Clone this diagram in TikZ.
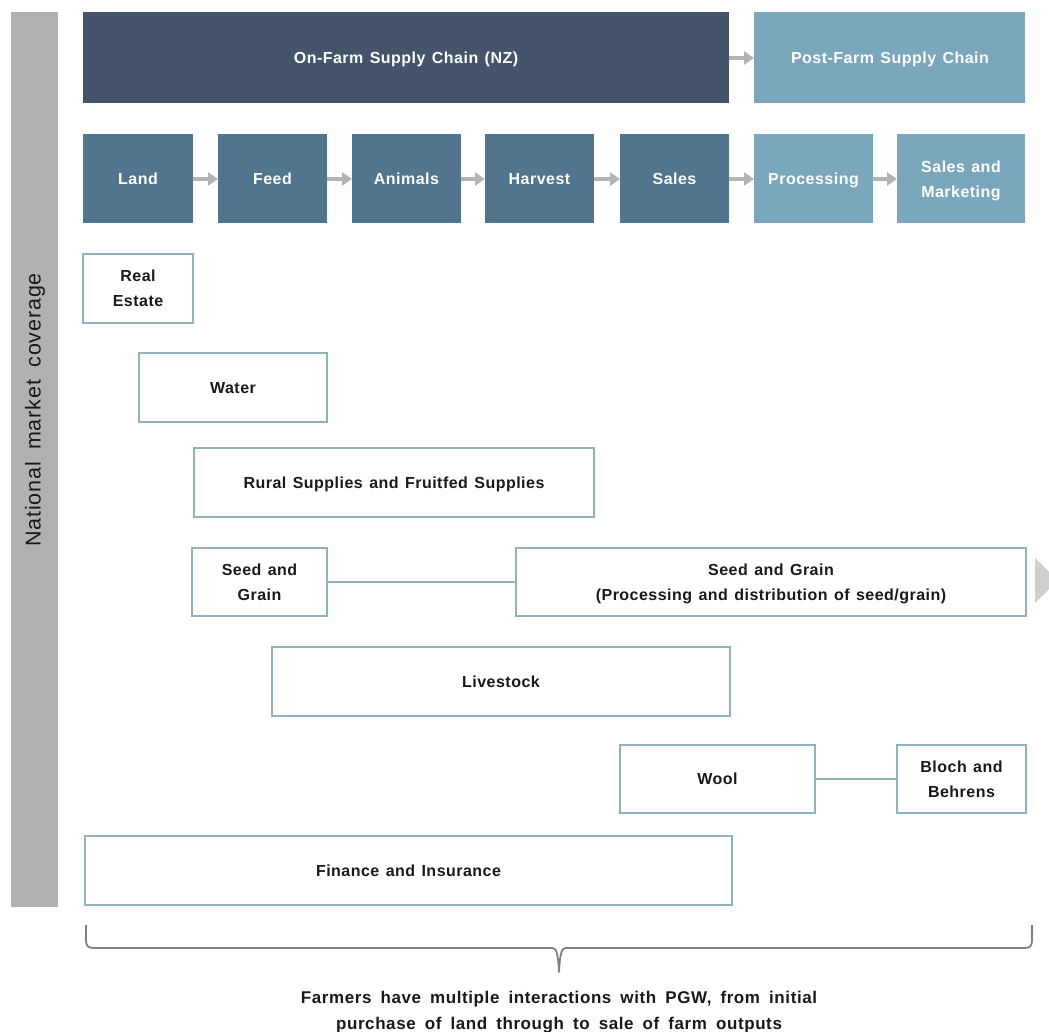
\documentclass[tikz,border=0pt]{standalone}
\usepackage{fontspec}
\setmainfont{Liberation Sans}
\newfontfamily\boxfont[LetterSpace=3,WordSpace=1.3]{Liberation Sans}
\newfontfamily\capfont[LetterSpace=3.5,WordSpace=1.7]{Liberation Sans}
\newfontfamily\sidefont[LetterSpace=4,WordSpace=1.8]{Liberation Sans}
\usetikzlibrary{arrows.meta}
\definecolor{darkslate}{HTML}{44546A}
\definecolor{midblue}{HTML}{51758C}
\definecolor{lightblue}{HTML}{7BA7BC}
\definecolor{boxline}{HTML}{8FB3BA}
\definecolor{barGrey}{HTML}{B2B1AF}
\definecolor{arrGrey}{HTML}{B3B3B3}
\definecolor{triGrey}{HTML}{D0CFCD}
\definecolor{braceGrey}{HTML}{7F7F7F}
\begin{document}
\begin{tikzpicture}[x=1pt,y=-1pt,
  wtxt/.style={text=white,font=\boxfont\bfseries\fontsize{16}{25}\selectfont,align=center,inner sep=0pt,anchor=base},
  btxt/.style={text=black!90,font=\boxfont\bfseries\fontsize{16}{25}\selectfont,align=center,inner sep=0pt,anchor=base},
  flow/.style={draw=arrGrey,line width=3.5pt,-{Triangle[length=10pt,width=13pt]}},
  link/.style={draw=boxline,line width=1.6pt}]
\useasboundingbox (0,0) rectangle (1049,1032);
% left bar
\fill[barGrey] (11,12) rectangle (58,907);
\node[rotate=90,text=black!90,font=\sidefont\fontsize{21.5}{24}\selectfont,inner sep=0pt] (nmc) at (35,410) {National market coverage};
% header row
\fill[darkslate] (83,12) rectangle (729,103);
\node[wtxt] (onfarm) at (406,63.2) {On-Farm Supply Chain (NZ)};
\fill[lightblue] (754,12) rectangle (1025,103);
\node[wtxt] (postfarm) at (890,63.2) {Post-Farm Supply Chain};
\coordinate (onR) at (729,58);
\coordinate (postL) at (754,58);
\draw[flow] (onR) -- (postL);
% stage row
\newcommand{\stage}[6]{%
  \fill[#6] (#1,134) rectangle (#2,223);
  \node[wtxt] (#3) at ({(#1+#2)/2},#5) {#4};
  \coordinate (#3L) at (#1,179);
  \coordinate (#3R) at (#2,179);}
\stage{83}{193}{land}{Land}{184.7}{midblue}
\stage{218}{327}{feed}{Feed}{184.7}{midblue}
\stage{352}{461}{animals}{Animals}{184.7}{midblue}
\stage{485}{594}{harvest}{Harvest}{184.7}{midblue}
\stage{620}{729}{sales}{Sales}{184.7}{midblue}
\stage{754}{873}{proc}{Processing}{184.7}{lightblue}
\stage{897}{1025}{mkt}{Sales and\\Marketing}{197.2}{lightblue}
\draw[flow] (landR) -- (feedL);
\draw[flow] (feedR) -- (animalsL);
\draw[flow] (animalsR) -- (harvestL);
\draw[flow] (harvestR) -- (salesL);
\draw[flow] (salesR) -- (procL);
\draw[flow] (procR) -- (mktL);
% outline boxes
\newcommand{\obx}[7]{%
  \draw[boxline,line width=1.8pt] (#1,#3) rectangle (#2,#4);
  \node[btxt] (#5) at ({(#1+#2)/2},#7) {#6};
  \coordinate (#5W) at (#1,{(#3+#4)/2});
  \coordinate (#5E) at (#2,{(#3+#4)/2});}
\obx{83}{193}{254}{323}{realestate}{Real\\Estate}{306.7}
\obx{139}{327}{353}{422}{water}{Water}{393.2}
\obx{194}{594}{448}{517}{rural}{Rural Supplies and Fruitfed Supplies}{488.2}
\obx{192}{327}{548}{616}{seed}{Seed and\\Grain}{600.2}
\obx{516}{1026}{548}{616}{seedproc}{Seed and Grain\\(Processing and distribution of seed/grain)}{600.2}
\obx{272}{730}{647}{716}{livestock}{Livestock}{687.2}
\obx{620}{815}{745}{813}{wool}{Wool}{784.7}
\obx{897}{1026}{745}{813}{bloch}{Bloch and\\Behrens}{797.2}
\obx{85}{732}{836}{905}{finance}{Finance and Insurance}{876.2}
\draw[link] (seedE) -- (seedprocW);
\draw[link] (woolE) -- (blochW);
% grey triangle (continues beyond the page edge)
\fill[triGrey] (1035,558) -- (1057.5,580.5) -- (1035,603) -- cycle;
% brace
\coordinate (brL) at (86,925);
\coordinate (brR) at (1032,925);
\coordinate (brTip) at (559,972);
\draw[braceGrey,line width=1.8pt,line join=round]
  (brL) -- (86,940) .. controls (86,946) and (88,948) .. (94,948) -- (552,948)
  .. controls (556,948) and (558,952) .. (brTip)
  .. controls (560,952) and (562,948) .. (566,948) -- (1024,948)
  .. controls (1030,948) and (1032,946) .. (1032,940) -- (brR);
\node[text=black!90,font=\capfont\bfseries\fontsize{17}{26}\selectfont,align=center,inner sep=0pt,anchor=base] (caption) at (559,1029) {Farmers have multiple interactions with PGW, from initial\\purchase of land through to sale of farm outputs};
\end{tikzpicture}
\end{document}
